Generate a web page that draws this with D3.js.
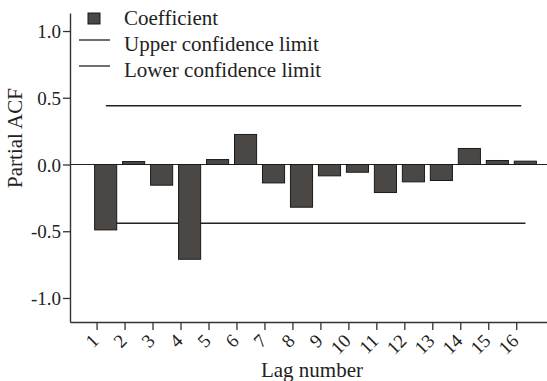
<!DOCTYPE html>
<html>
<head>
<meta charset="utf-8">
<script src="https://cdn.jsdelivr.net/npm/d3@7"></script>
<style>
  body { margin: 0; background: #fff; }
  svg text { font-family: "Liberation Serif", "DejaVu Serif", serif !important; }
</style>
</head>
<body>
<svg id="chart" width="547" height="381"></svg>
<script>
// Chart data
let lags = [1, 2, 3, 4, 5, 6, 7, 8, 9, 10, 11, 12, 13, 14, 15, 16]
let coefficients = [-0.49, 0.022, -0.155, -0.71, 0.037, 0.225, -0.138, -0.32,
                    -0.085, -0.058, -0.21, -0.13, -0.12, 0.12, 0.03, 0.025]
let upperLimit = 0.44
let lowerLimit = -0.44
let yTicks = [-1.0, -0.5, 0.0, 0.5, 1.0]
let legendLabels = ["Coefficient", "Upper confidence limit", "Lower confidence limit"]

// Global settings
let barColor = "#4b4745"
let inkColor = "#222"

let svg = d3.select("#chart")

let x = d3.scaleLinear().domain([0.05, 17.1]).range([70, 547])
let y = d3.scaleLinear().domain([-1.18, 1.135]).range([322, 13])

// Lower limit drawn under the bars
let lineData = [
    {v: lowerLimit, from: 1.33, to: 16.33},
    {v: upperLimit, from: 1.33, to: 16.18}
]

svg.append("line")
    .attr("x1", x(lineData[0].from)).attr("x2", x(lineData[0].to))
    .attr("y1", y(lineData[0].v)).attr("y2", y(lineData[0].v))
    .attr("stroke", inkColor).attr("stroke-width", 1.3)

// Zero reference line
svg.append("line")
    .attr("x1", x(0.05)).attr("x2", x(17.1))
    .attr("y1", y(0)).attr("y2", y(0))
    .attr("stroke", inkColor).attr("stroke-width", 1.2)

// Bars
svg.selectAll("rect.bar")
    .data(lags)
    .enter()
    .append("rect")
    .attr("class", "bar")
    .attr("x", d => x(d - 0.07))
    .attr("width", d => x(d + 0.72) - x(d - 0.07))
    .attr("y", (d, i) => y(Math.max(0, coefficients[i])))
    .attr("height", (d, i) => Math.abs(y(coefficients[i]) - y(0)))
    .attr("fill", barColor)
    .attr("stroke", "#1a1a1a")
    .attr("stroke-width", 1)

svg.append("line")
    .attr("x1", x(lineData[1].from)).attr("x2", x(lineData[1].to))
    .attr("y1", y(lineData[1].v)).attr("y2", y(lineData[1].v))
    .attr("stroke", inkColor).attr("stroke-width", 1.3)

// Axes
let yAxis = svg.append("g")
    .attr("transform", "translate(70,0)")
    .call(d3.axisLeft(y).tickValues(yTicks).tickSize(7).tickSizeOuter(0)
        .tickFormat(d3.format(".1f")))
let xAxis = svg.append("g")
    .attr("transform", "translate(0,322)")
    .call(d3.axisBottom(x).tickValues(lags).tickSize(8).tickSizeOuter(0))

for (let ax of [xAxis, yAxis]) {
    ax.attr("font-family", null)
    ax.select(".domain").attr("stroke", "#333").attr("stroke-width", 1.4)
    ax.selectAll(".tick line").attr("stroke", "#333").attr("stroke-width", 1.3)
    ax.selectAll("text").attr("fill", "#222").style("font-size", "19px")
}
yAxis.selectAll("text").attr("x", -9).attr("dy", "0.35em")
    .text(d => d < 0 ? "-" + d3.format(".1f")(-d) : d3.format(".1f")(d))

xAxis.selectAll("text")
    .attr("text-anchor", "end")
    .attr("x", 0).attr("y", 0).attr("dy", 0)
    .attr("transform", "translate(3,20) rotate(-45)")

// Axis titles
svg.append("text")
    .attr("x", x(8.7)).attr("y", 377)
    .attr("text-anchor", "middle")
    .style("font-size", "21px").attr("fill", "#222")
    .text("Lag number")

svg.append("text")
    .attr("transform", "translate(22,138) rotate(-90)")
    .attr("text-anchor", "middle")
    .style("font-size", "21px").attr("fill", "#222")
    .text("Partial ACF")

// Legend
let legend = svg.append("g")
legend.selectAll("text")
    .data(legendLabels)
    .enter()
    .append("text")
    .attr("x", 124)
    .attr("y", (d, i) => 25 + i * 26)
    .style("font-size", "21px").attr("fill", "#222")
    .text(d => d)

legend.append("rect")
    .attr("x", 88).attr("y", 13).attr("width", 12).attr("height", 11)
    .attr("fill", barColor).attr("stroke", "#1a1a1a")

legend.selectAll("line")
    .data([1, 2])
    .enter()
    .append("line")
    .attr("x1", 79).attr("x2", 110)
    .attr("y1", d => 17 + d * 26 - 3).attr("y2", d => 17 + d * 26 - 3)
    .attr("stroke", inkColor).attr("stroke-width", 1.3)
</script>
</body>
</html>
